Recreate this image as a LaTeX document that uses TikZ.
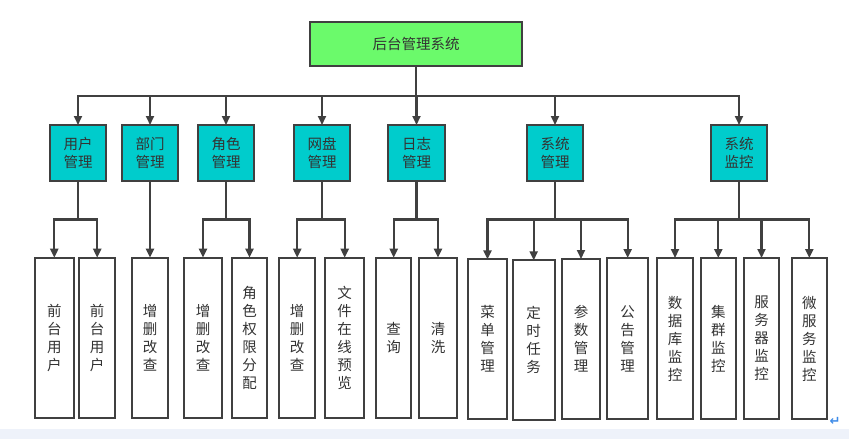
\documentclass[tikz,border=0pt]{standalone}
\usepackage{fontspec}
\newfontfamily\cjk{Noto Sans CJK SC}
\newfontfamily\dejavu{DejaVu Sans}
\usetikzlibrary{arrows.meta,calc}
\definecolor{linegray}{HTML}{404040}
\definecolor{txtgray}{HTML}{333333}
\definecolor{rootgreen}{HTML}{6BFA6B}
\definecolor{midcyan}{HTML}{00CCCC}
\definecolor{bandblue}{HTML}{EEF2FA}
\definecolor{markblue}{HTML}{3D8BE8}
\begin{document}
\begin{tikzpicture}[x=1pt,y=-1pt,
  every node/.style={inner sep=0pt,outer sep=0pt},
  rootbox/.style={draw=linegray,line width=2.1pt,fill=rootgreen,minimum width=212pt,minimum height=44pt,text=txtgray,font=\cjk\fontsize{14.5}{18.5}\selectfont},
  midbox/.style={draw=linegray,line width=2.1pt,fill=midcyan,minimum width=56.5pt,minimum height=56pt,align=center,text=txtgray,font=\cjk\fontsize{14.5}{18.5}\selectfont},
  leafbox/.style={draw=linegray,line width=2.1pt,fill=white,minimum height=160pt,align=center,text=txtgray,font=\cjk\fontsize{14.5}{18}\selectfont},
  conn/.style={draw=linegray,line width=2.1pt},
  arr/.style={conn,-{Triangle[length=9pt,width=8pt]}}
]
\useasboundingbox (0,0) rectangle (849,439);
\fill[white] (0,0) rectangle (849,439);
\fill[bandblue] (0,429) rectangle (849,439);

% root
\node[rootbox] (root) at (416,44) {后台管理系统};
\coordinate (bus) at (416,96);

% level 2
\node[midbox] (user) at (78,153) {用户\\管理};
\node[midbox] (dept) at (150,153) {部门\\管理};
\node[midbox] (role) at (226,153) {角色\\管理};
\node[midbox] (disk) at (322,153) {网盘\\管理};
\node[midbox] (log)  at (416.5,153) {日志\\管理};
\node[midbox] (sysm) at (555,153) {系统\\管理};
\node[midbox] (mon)  at (739,153) {系统\\监控};

\foreach \c in {user,dept,role,disk,log,sysm,mon}{
  \draw[arr] (root.south) -- (bus) -| (\c.north);
}

% level 3
\node[leafbox,minimum width=39pt] (u1) at (54.3,337.7) {前\\台\\用\\户};
\node[leafbox,minimum width=36pt] (u2) at (97.2,337.7) {前\\台\\用\\户};
\node[leafbox,minimum width=35.6pt] (d1) at (150,337.7) {增\\删\\改\\查};
\node[leafbox,minimum width=38pt] (r1) at (203,337.7) {增\\删\\改\\查};
\node[leafbox,minimum width=35.6pt] (r2) at (249.5,337.7) {角\\色\\权\\限\\分\\配};
\node[leafbox,minimum width=36.3pt] (n1) at (297.2,337.7) {增\\删\\改\\查};
\node[leafbox,minimum width=38.7pt] (n2) at (344.7,337.7) {文\\件\\在\\线\\预\\览};
\node[leafbox,minimum width=35.3pt] (l1) at (393.7,337.7) {查\\询};
\node[leafbox,minimum width=37.4pt] (l2) at (438,337.7) {清\\洗};
\node[leafbox,minimum width=38.4pt,minimum height=159.7pt] (s1) at (487.5,339.2) {菜\\单\\管\\理};
\node[leafbox,minimum width=42pt,minimum height=159.7pt] (s2) at (533.7,340.2) {定\\时\\任\\务};
\node[leafbox,minimum width=38.6pt] (s3) at (581,339) {参\\数\\管\\理};
\node[leafbox,minimum width=40.7pt,minimum height=161pt] (s4) at (627.7,338.5) {公\\告\\管\\理};
\node[leafbox,minimum width=35.4pt,minimum height=161pt] (m1) at (675,338.5) {数\\据\\库\\监\\控};
\node[leafbox,minimum width=35.3pt,minimum height=161pt] (m2) at (718.3,338.5) {集\\群\\监\\控};
\node[leafbox,minimum width=35pt,minimum height=161pt] (m3) at (761.5,338.5) {服\\务\\器\\监\\控};
\node[leafbox,minimum width=34.7pt,minimum height=161pt] (m4) at (809.3,338.5) {微\\服\\务\\监\\控};

% level 2 -> level 3 connectors
\coordinate (userb) at (78,219.5);
\coordinate (roleb) at (226,219.5);
\coordinate (diskb) at (322,219.5);
\coordinate (logb)  at (416.5,219.5);
\coordinate (sysmb) at (555,219.5);
\coordinate (monb)  at (739,219.5);

\foreach \c in {u1,u2}{\draw[arr] (user.south) -- (userb) -| (\c.north);}
\draw[arr] (dept.south) -- (d1.north);
\foreach \c in {r1,r2}{\draw[arr] (role.south) -- (roleb) -| (\c.north);}
\foreach \c in {n1,n2}{\draw[arr] (disk.south) -- (diskb) -| (\c.north);}
\foreach \c in {l1,l2}{\draw[arr] (log.south) -- (logb) -| (\c.north);}
\foreach \c in {s1,s2,s3,s4}{\draw[arr] (sysm.south) -- (sysmb) -| (\c.north);}
\foreach \c in {m1,m2,m3,m4}{\draw[arr] (mon.south) -- (monb) -| (\c.north);}

% editor return mark
\node[text=markblue,font=\dejavu\bfseries\fontsize{13}{13}\selectfont] (ret) at (835,421) {↵};
\end{tikzpicture}
\end{document}
